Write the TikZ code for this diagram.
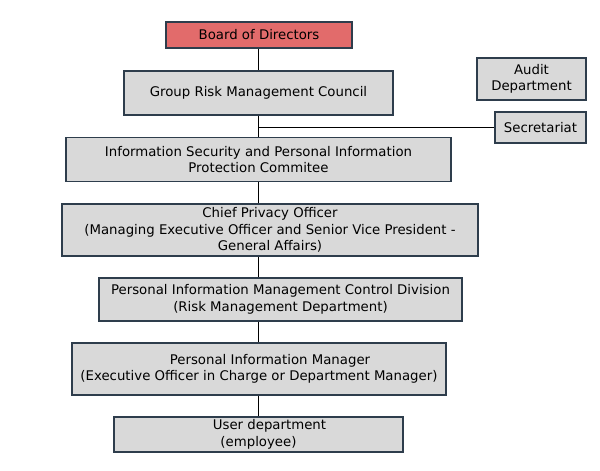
\documentclass[tikz,border=0pt]{standalone}
\usepackage{fontspec}
\setmainfont{DejaVu Sans}
\begin{document}
\begin{tikzpicture}[x=1pt,y=-1pt,
  box/.style={draw=boxedge, line width=1.7pt, fill=boxfill, align=center, inner sep=0pt,
    font=\fontsize{13.3}{16.5}\selectfont, text=black},
  link/.style={draw=black, line width=1.8pt}]
\definecolor{boxedge}{HTML}{2E3D4C}
\definecolor{boxfill}{HTML}{D9D9D9}
\definecolor{boardfill}{HTML}{E26B6B}
\useasboundingbox (0,0) rectangle (600,471);
\node[box, fill=boardfill, minimum width=186pt, minimum height=26pt] (board) at (259,35) {Board of Directors};
\node[box, minimum width=269pt, minimum height=44pt] (group) at (258.5,93) {Group Risk Management Council};
\node[box, minimum width=109pt, minimum height=42pt] (audit) at (531.5,79) {Audit\\Department};
\node[box, minimum width=91pt, minimum height=31pt] (sec) at (540.5,127.5) {Secretariat};
\node[box, minimum width=385pt, minimum height=44pt] (infosec) at (258.5,159.5) {Information Security and Personal Information\\Protection Commitee};
\node[box, minimum width=416pt, minimum height=52pt] (chief) at (270,230) {Chief Privacy Officer\\(Managing Executive Officer and Senior Vice President -\\General Affairs)};
\node[box, minimum width=363pt, minimum height=43pt] (pimcd) at (280.5,299.5) {Personal Information Management Control Division\\(Risk Management Department)};
\node[box, minimum width=374pt, minimum height=52pt] (pim) at (259,369) {\hspace*{22pt}Personal Information Manager\\(Executive Officer in Charge or Department Manager)};
\node[box, minimum width=289pt, minimum height=35pt] (user) at (258.5,434.5) {\hspace*{22pt}User department\\(employee)};
\coordinate (spine) at (258.5,0);
\draw[link] (spine |- board.south) -- (spine |- group.north);
\draw[link] (spine |- group.south) -- (spine |- infosec.north);
\draw[link] (spine |- infosec.south) -- (spine |- chief.north);
\draw[link] (spine |- chief.south) -- (spine |- pimcd.north);
\draw[link] (spine |- pimcd.south) -- (spine |- pim.north);
\draw[link] (spine |- pim.south) -- (spine |- user.north);
\draw[link] (spine |- sec.west) -- (sec.west);
\end{tikzpicture}
\end{document}
